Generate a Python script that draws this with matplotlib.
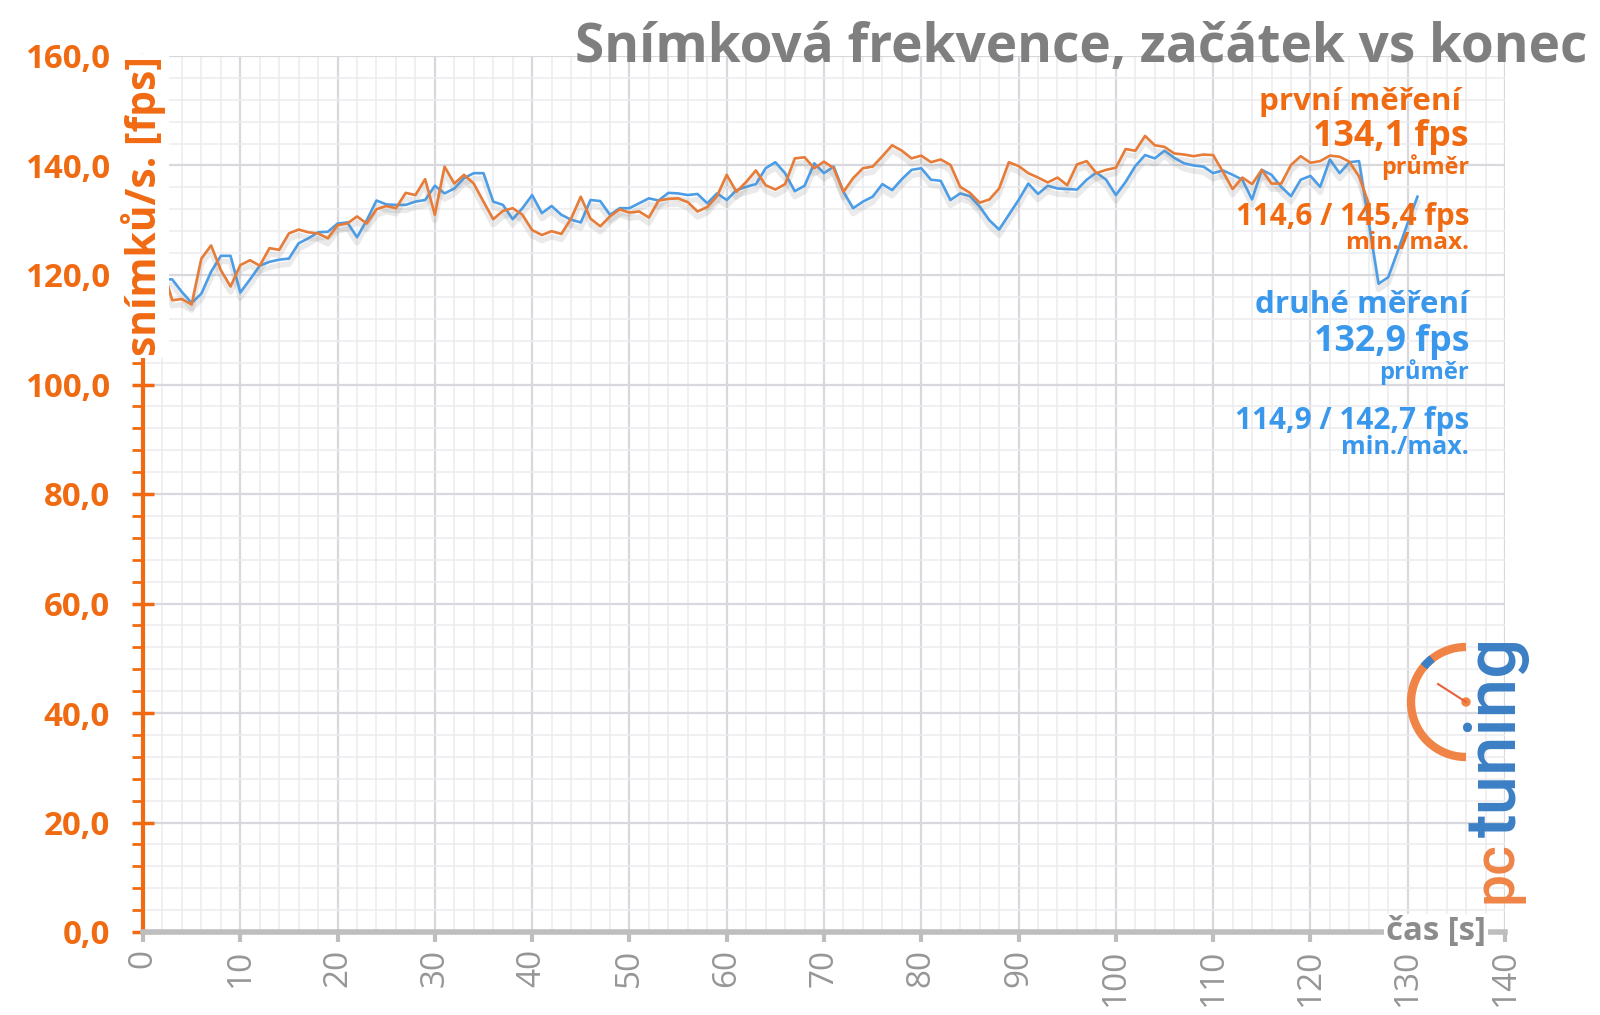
import matplotlib
matplotlib.use("Agg")
import matplotlib.pyplot as plt
import matplotlib.patheffects as pe
from matplotlib.patches import Arc, Circle
from matplotlib.ticker import MultipleLocator, FuncFormatter

plt.rcParams['font.family'] = ['Open Sans', 'DejaVu Sans']

# ---------------- data ----------------
first_time = list(range(1, 127))
first_fps = [
    121.5, 121.5, 115.4, 115.6, 114.6, 123.0, 125.4, 120.9, 117.9, 121.8,
    122.7, 121.7, 124.9, 124.6, 127.6, 128.3, 127.8, 127.6, 126.7, 129.1,
    129.4, 130.7, 129.4, 132.0, 132.6, 132.2, 135.0, 134.6, 137.5, 131.0,
    139.8, 136.7, 138.3, 136.7, 133.4, 130.2, 131.7, 132.2, 131.0, 128.2,
    127.3, 128.0, 127.5, 130.3, 134.3, 130.3, 128.9, 130.7, 132.0, 131.4,
    131.6, 130.5, 133.6, 133.9, 134.0, 133.3, 131.6, 132.4, 134.4, 138.3,
    135.2, 137.0, 139.1, 136.4, 135.6, 136.6, 141.3, 141.5, 139.5, 140.7,
    139.5, 135.2, 137.7, 139.5, 139.8, 141.7, 143.7, 142.7, 141.3, 141.8,
    140.6, 141.1, 140.1, 136.1, 135.0, 133.2, 133.8, 135.8, 140.6, 139.9,
    138.6, 137.8, 136.9, 137.8, 136.4, 140.2, 140.8, 138.6, 139.2, 139.6,
    143.0, 142.7, 145.4, 143.7, 143.4, 142.2, 142.0, 141.7, 142.0, 141.9,
    138.9, 135.7, 137.8, 136.6, 139.2, 136.7, 136.7, 140.1, 141.7, 140.5,
    140.8, 141.8, 141.6, 140.7, 138.0, 133.0,
]
second_time = list(range(1, 132))
second_fps = [
    120.3, 119.2, 119.2, 116.9, 114.9, 116.6, 120.6, 123.5, 123.5, 116.8,
    119.2, 121.7, 122.4, 122.8, 123.0, 125.8, 126.7, 127.8, 127.9, 129.4,
    129.6, 126.9, 130.0, 133.6, 132.9, 132.8, 132.8, 133.4, 133.7, 136.3,
    134.9, 135.8, 137.7, 138.6, 138.6, 133.4, 132.8, 130.2, 132.2, 134.6,
    131.3, 132.6, 131.0, 130.1, 129.6, 133.7, 133.5, 131.0, 132.2, 132.2,
    133.1, 134.0, 133.6, 135.0, 134.9, 134.6, 134.8, 133.1, 134.9, 133.7,
    135.5, 136.1, 136.6, 139.5, 140.6, 138.6, 135.3, 136.3, 140.4, 138.6,
    139.8, 135.2, 132.2, 133.4, 134.3, 136.6, 135.5, 137.5, 139.2, 139.5,
    137.4, 137.2, 133.7, 134.9, 134.4, 132.5, 130.0, 128.3, 131.0, 133.7,
    136.7, 134.8, 136.3, 135.8, 135.7, 135.6, 137.4, 138.7, 137.4, 134.6,
    137.0, 139.9, 141.9, 141.3, 142.7, 141.4, 140.4, 140.0, 139.8, 138.6,
    139.1, 138.3, 137.4, 133.8, 139.2, 138.3, 136.1, 134.4, 137.4, 138.1,
    136.1, 141.1, 138.6, 140.6, 140.8, 129.5, 118.4, 119.6, 124.5, 129.5,
    134.3,
]

title = "Snímková frekvence, začátek vs konec"
ylabel = "snímků/s. [fps]"
xlabel = "čas [s]"
first_name = "první měření"
first_avg = "134,1 fps"
first_minmax = "114,6 / 145,4 fps"
second_name = "druhé měření"
second_avg = "132,9 fps"
second_minmax = "114,9 / 142,7 fps"
avg_word = "průměr"
minmax_word = "min./max."

# ---------------- style ----------------
W, H = 1600, 1015
ORANGE_TXT = "#F06A12"
ORANGE_LINE = "#E77B38"
BLUE_TXT = "#3A98EC"
BLUE_LINE = "#4C9DE6"
GRAY_TXT = "#7F7F7F"
AX_GRAY = "#BEBEBE"

fig = plt.figure(figsize=(W / 100, H / 100), dpi=100)
fig.patch.set_facecolor("white")
renderer = fig.canvas.get_renderer()


def fit(txt, target, dim="w"):
    """scale font size so the text's rendered extent matches a target in pixels"""
    for _ in range(3):
        bb = txt.get_window_extent(renderer)
        cur = bb.width if dim == "w" else bb.height
        txt.set_fontsize(txt.get_fontsize() * target / cur)
    return txt


x0, x1 = 143, 1505
y0, y1 = 932, 56
ax = fig.add_axes([x0 / W, (H - y0) / H, (x1 - x0) / W, (y0 - y1) / H])
ax.set_xlim(0, 140)
ax.set_ylim(0, 160)

ax.xaxis.set_major_locator(MultipleLocator(10))
ax.xaxis.set_minor_locator(MultipleLocator(2))
ax.yaxis.set_major_locator(MultipleLocator(20))
ax.yaxis.set_minor_locator(MultipleLocator(4))

ax.grid(which="major", color="#D8D8DE", lw=1.6, zorder=0)
ax.grid(which="minor", color="#ECECF0", lw=1.1, zorder=0)
ax.set_axisbelow(True)

for s in ["top", "right"]:
    ax.spines[s].set_visible(False)
ax.spines["left"].set_color(ORANGE_TXT)
ax.spines["left"].set_linewidth(3)
ax.spines["bottom"].set_color(AX_GRAY)
ax.spines["bottom"].set_linewidth(4)

ax.yaxis.set_major_formatter(FuncFormatter(lambda v, p: f"{v:.1f}".replace(".", ",")))
ax.tick_params(axis="y", which="major", direction="inout", length=16, width=2.5,
               color=ORANGE_TXT, labelcolor=ORANGE_TXT, labelsize=22, pad=16)
ax.tick_params(axis="y", which="minor", direction="out", length=8, width=2,
               color=ORANGE_TXT)
ax.tick_params(axis="x", which="major", direction="out", length=7, width=3,
               color=AX_GRAY, labelcolor="#969696", labelsize=24, pad=5,
               labelrotation=90)
ax.tick_params(axis="x", which="minor", length=0)

shadow = [pe.SimpleLineShadow(offset=(0, -4), shadow_color="gray", alpha=0.16, linewidth=4),
          pe.Normal()]
ax.plot(second_time, second_fps, color=BLUE_LINE, lw=1.9, zorder=3, path_effects=shadow)
ax.plot(first_time, first_fps, color=ORANGE_LINE, lw=1.9, zorder=4, path_effects=shadow)

fig.canvas.draw()
# fit y tick label width ("160,0" about 84 px wide)
lab = [t for t in ax.get_yticklabels() if t.get_text() == "160,0"][0]
w = lab.get_window_extent(renderer).width
ax.tick_params(axis="y", which="major", labelsize=22 * 84 / w)
for lab in ax.get_yticklabels():
    lab.set_fontweight("bold")

# axis titles
t = fig.text(144 / W, 1 - 206 / H, ylabel, rotation=90, ha="center", va="center",
             color=ORANGE_TXT, fontsize=22, fontweight="bold",
             bbox=dict(facecolor="white", edgecolor="none", pad=1), zorder=10)
fit(t, 300, "h")
t = fig.text(1436 / W, 1 - 932 / H, xlabel, ha="center", va="center",
             color="#8C8C8C", fontsize=21, fontweight="bold",
             bbox=dict(facecolor="white", edgecolor="none", pad=1), zorder=10)
fit(t, 100)

# title
t = fig.text(1587 / W, 1 - 48 / H, title, ha="right", va="center", color=GRAY_TXT,
             fontsize=36, fontweight="bold")
fit(t, 1012)

# annotations
def note(xr, y, s, c, width):
    tx = fig.text(xr / W, 1 - y / H, s, ha="right", va="center", color=c, fontsize=20,
                  fontweight="bold", zorder=10)
    fit(tx, width)

note(1461, 102, first_name, ORANGE_TXT, 202)
note(1469, 137, first_avg, ORANGE_TXT, 156)
note(1469, 167, avg_word, ORANGE_TXT, 88)
note(1469, 217, first_minmax, ORANGE_TXT, 234)
note(1469, 243, minmax_word, ORANGE_TXT, 124)
note(1469, 305, second_name, BLUE_TXT, 214)
note(1469, 342, second_avg, BLUE_TXT, 155)
note(1469, 372, avg_word, BLUE_TXT, 90)
note(1469, 421, second_minmax, BLUE_TXT, 234)
note(1469, 448, minmax_word, BLUE_TXT, 128)

# logo
ov = fig.add_axes([0, 0, 1, 1], facecolor="none")
ov.set_xlim(0, W)
ov.set_ylim(0, H)
ov.axis("off")
cx, cy = 1466, H - 702
ov.add_patch(Arc((cx, cy), 110, 110, theta1=90, theta2=270, color="#EF8446", lw=6))
ov.add_patch(Arc((cx, cy), 110, 110, theta1=128, theta2=140, color="#3C7FC4", lw=6))
ov.plot([cx, cx - 28], [cy, cy + 18], color="#E8603C", lw=1.5)
ov.add_patch(Circle((cx, cy), 4, color="#EF8446"))
t = ov.text(1496, H - 872, "pc", rotation=90, ha="center", va="center",
            color="#EF8446", fontsize=40, fontweight="medium", family="Roboto")
fit(t, 62, "h")
t = ov.text(1496, H - 737, "tuning", rotation=90, ha="center", va="center",
            color="#3C7FC4", fontsize=40, fontweight="medium", family="Roboto")
fit(t, 200, "h")

fig.savefig("out.png", dpi=100, facecolor="white")
